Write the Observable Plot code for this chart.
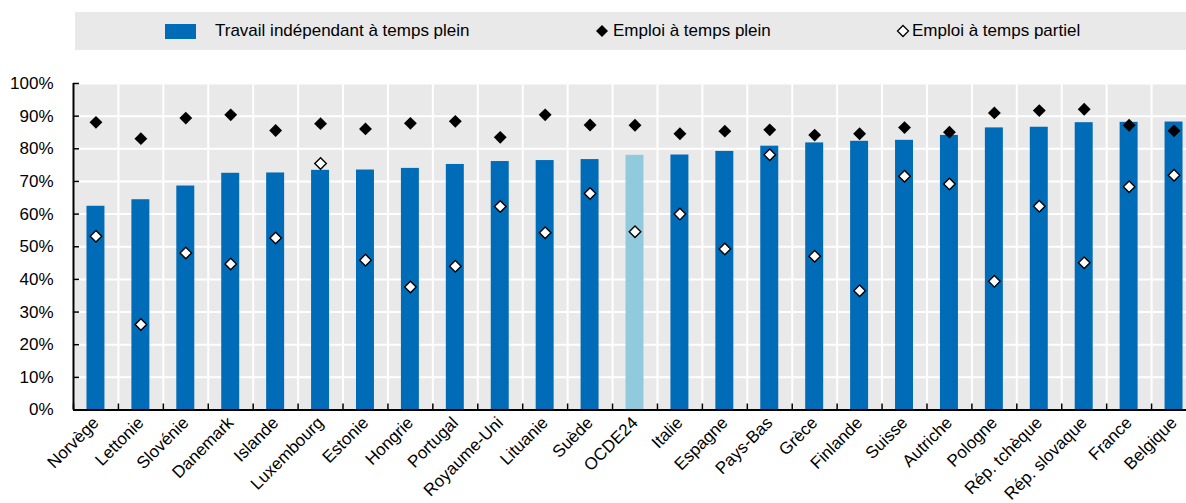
<!DOCTYPE html>
<html>
<head>
<meta charset="utf-8">
<script src="https://cdn.jsdelivr.net/npm/d3@7"></script>
<script src="https://cdn.jsdelivr.net/npm/@observablehq/plot@0.6"></script>
<style>
  html, body { margin: 0; padding: 0; background: #fff; overflow: hidden; width: 1186px; height: 503px; }
  body { position: relative; font-family: "Liberation Sans", Arial, sans-serif; color: #000; }
  #legend { position: absolute; left: 75px; top: 12px; width: 1111px; height: 38px; background: #e9e9e9; font-size: 17px; }
  #legend .item { position: absolute; top: 0; height: 38px; display: flex; align-items: center; white-space: nowrap; }
  #chart { position: absolute; left: 0; top: 60px; width: 1196px; }
  #chart svg { max-width: none !important; }
</style>
</head>
<body>
<div id="legend"></div>
<div id="chart"></div>
<script>
const countries = ["Norvège","Lettonie","Slovénie","Danemark","Islande","Luxembourg","Estonie","Hongrie","Portugal","Royaume-Uni","Lituanie","Suède","OCDE24","Italie","Espagne","Pays-Bas","Grèce","Finlande","Suisse","Autriche","Pologne","Rép. tchèque","Rép. slovaque","France","Belgique"];
const selfEmployedFullTime = [62.4,64.4,68.6,72.5,72.6,73.4,73.5,74.0,75.2,76.1,76.4,76.7,78.0,78.1,79.2,80.8,81.8,82.3,82.6,84.1,86.4,86.6,88.0,88.1,88.2];
const employmentFullTime = [88.1,83.1,89.4,90.4,85.6,87.7,86.1,87.8,88.4,83.5,90.4,87.3,87.2,84.6,85.4,85.8,84.2,84.6,86.5,85.1,91.0,91.7,92.1,87.2,85.5];
const employmentPartTime = [53.2,26.2,48.1,44.7,52.7,75.5,45.9,37.7,44.0,62.3,54.3,66.3,54.6,60.0,49.3,78.2,47.1,36.5,71.6,69.2,39.4,62.4,45.1,68.4,71.9];
const yTicks = [0,10,20,30,40,50,60,70,80,90,100];
const highlight = "OCDE24";
const seriesNames = ["Travail indépendant à temps plein","Emploi à temps plein","Emploi à temps partiel"];

const blue = "#006bb6", lightBlue = "#92cadd", grey = "#e9e9e9";

const data = countries.map((c, i) => ({
  country: c,
  se: selfEmployedFullTime[i],
  ft: employmentFullTime[i],
  pt: employmentPartTime[i]
}));

const W = 1196, mL = 73, mR = 0, mT = 23, mB = 93.5, H = 443;
const step = (W - mL - mR) / countries.length;
const plotH = H - mT - mB;

const chart = Plot.plot({
  width: W, height: H,
  marginLeft: mL, marginRight: mR, marginTop: mT, marginBottom: mB,
  x: {domain: countries, paddingInner: 0.6, paddingOuter: 0.3, round: false, label: null},
  y: {domain: [0, 100], label: null},
  color: {type: "identity"},
  style: {fontFamily: "'Liberation Sans', Arial, sans-serif", fontSize: "17px", color: "#000", background: "transparent", overflow: "visible", maxWidth: "none"},
  marks: [
    Plot.frame({fill: grey, stroke: null}),
    Plot.gridY(yTicks, {stroke: "white", strokeOpacity: 1, strokeWidth: 2}),
    Plot.ruleX(countries, {x: d => d, dx: -step / 2, stroke: "white", strokeWidth: 2}),
    Plot.barY(data, {x: "country", y: "se", fill: d => d.country === highlight ? lightBlue : blue}),
    Plot.dot(data, {x: "country", y: "ft", symbol: "diamond2", r: 5.8, fill: "black", stroke: "none"}),
    Plot.dot(data, {x: "country", y: "pt", symbol: "diamond2", r: 5.2, fill: "white", stroke: "black", strokeWidth: 1.4}),
    Plot.ruleX(countries, {x: d => d, dx: -step / 2, insetTop: plotH - 6, stroke: "black", strokeWidth: 1.5}),
    Plot.ruleY(yTicks, {insetRight: (W - mL - mR) - 6, stroke: "black", strokeWidth: 1.5}),
    Plot.ruleY([0], {stroke: "black", strokeWidth: 2}),
    Plot.ruleX([countries[0]], {x: d => d, dx: -step / 2, stroke: "black", strokeWidth: 2}),
    Plot.axisY({ticks: yTicks, tickFormat: d => d + "%", tickSize: 0, tickPadding: 20}),
    Plot.axisX({tickSize: 0, tickRotate: -45, tickPadding: 10})
  ]
});
document.getElementById("chart").appendChild(chart);

// Legend
const legend = document.getElementById("legend");
function addItem(left, swatchSvg, text) {
  const d = document.createElement("div");
  d.className = "item";
  d.style.left = left + "px";
  d.innerHTML = swatchSvg + `<span>${text}</span>`;
  legend.appendChild(d);
}
addItem(90, `<svg width="50" height="15"><rect x="0" y="0" width="31" height="15" fill="${blue}"/></svg>`, seriesNames[0]);
addItem(520, `<svg width="14" height="14" style="margin-right:4px"><path d="M7,1 L13,7 L7,13 L1,7 Z" fill="black"/></svg>`, seriesNames[1]);
addItem(821, `<svg width="14" height="14" style="margin-right:2px"><path d="M7,1.5 L12.5,7 L7,12.5 L1.5,7 Z" fill="white" stroke="black" stroke-width="1.3"/></svg>`, seriesNames[2]);
</script>
</body>
</html>
